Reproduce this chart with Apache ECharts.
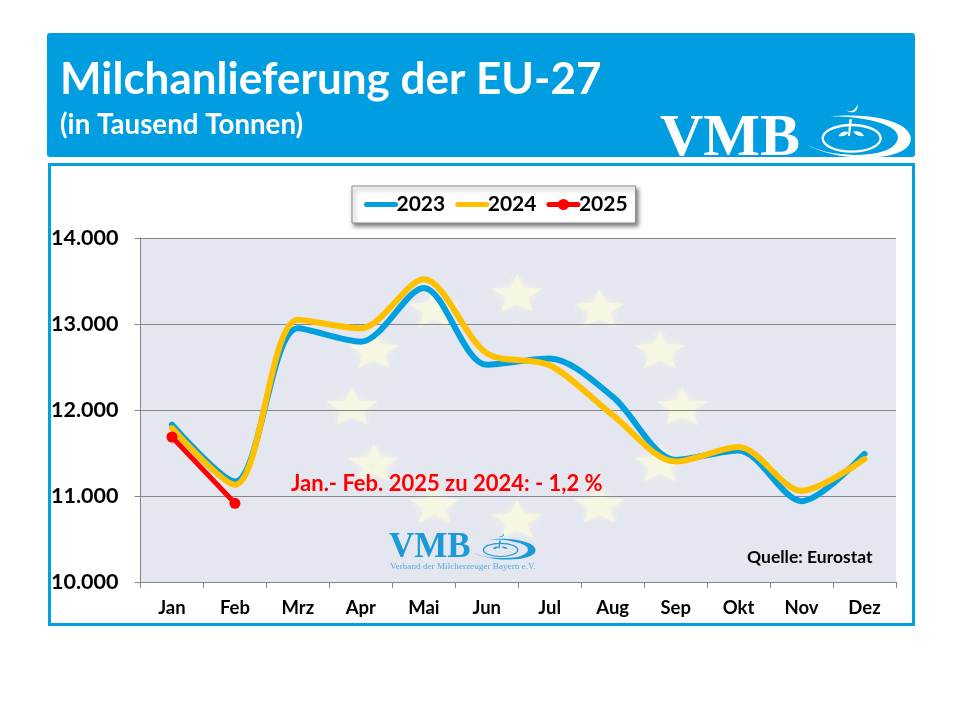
<!DOCTYPE html>
<html style="height: 100%">
<head>
<meta charset="utf-8">
<style type="text/css">
* { margin: 0; padding: 0; }
</style>
</head>
<body style="height: 100%; background: #fff">
<div id="main" style="width: 960px; height: 720px"></div>
<script src="https://cdn.jsdelivr.net/npm/echarts@6/dist/echarts.min.js"></script>
<script type="text/javascript">
var months = ['Jan', 'Feb', 'Mrz', 'Apr', 'Mai', 'Jun', 'Jul', 'Aug', 'Sep', 'Okt', 'Nov', 'Dez'];
var values2023 = [11830, 11170, 12950, 12795, 13420, 12525, 12600, 12155, 11420, 11530, 10940, 11490];
var values2024 = [11790, 11130, 13050, 12950, 13520, 12660, 12520, 11940, 11400, 11570, 11060, 11430];
var values2025 = [11686, 10915];

var font = 'Lato, "Noto Sans", sans-serif';
var blue = '#009ee0';

// the graphic component has no plain path type, so register the logo pieces
echarts.graphic.registerShape('swirlOuter', echarts.graphic.extendPath('M495 160 C560 205 700 215 770 190 C825 170 825 130 780 105 C730 78 640 72 570 80 C650 78 735 95 765 122 C790 150 760 185 690 192 C620 200 540 190 495 160 Z', {}));
echarts.graphic.registerShape('swirlSprout', echarts.graphic.extendPath('M618 60 C630 68 648 62 652 42 C656 62 640 76 618 60 Z M636 88 L630 138 L624 138 L628 88 Z M595 138 C605 122 620 122 625 128 C618 138 605 140 595 138 Z M640 124 C655 122 668 128 672 138 C660 140 645 136 640 124 Z', {}));

// EU stars behind the lines
function star(cx, cy) {
	var pts = [];
	for (var i = 0; i < 10; i++) {
		var a = -Math.PI / 2 + i * Math.PI / 5;
		var r = i % 2 ? 0.42 : 1;
		pts.push([cx + Math.cos(a) * r * 27, cy + Math.sin(a) * r * 21]);
	}
	return {
		type: 'polygon', z: 1, silent: true,
		shape: { points: pts },
		style: { fill: '#f6f7e3', shadowBlur: 8, shadowColor: '#f6f7e3' }
	};
}

function swirl(x, y, sx, sy, color) {
	return {
		type: 'group', x: x, y: y, scaleX: sx, scaleY: sy, z: 6, silent: true,
		children: [
			{ type: 'swirlOuter', z: 6, style: { fill: color } },
			{ type: 'ellipse', z: 6, shape: { cx: 635, cy: 145, rx: 87, ry: 40 }, style: { fill: null, stroke: color, lineWidth: 7 } },
			{ type: 'swirlSprout', z: 6, style: { fill: color } }
		]
	};
}

var graphics = [
	{ type: 'rect', z: 0, shape: { x: 47, y: 33, width: 868, height: 124, r: 3 }, style: { fill: blue } },
	{ type: 'rect', z: 0, shape: { x: 49.5, y: 164.5, width: 864, height: 460 }, style: { fill: null, stroke: '#00a0e3', lineWidth: 3 } },
	{ type: 'text', z: 6, x: 60, y: 80, style: { text: 'Milchanlieferung der EU-27', fill: '#fff', font: 'bold 44px ' + font, verticalAlign: 'middle' } },
	{ type: 'text', z: 6, x: 60, y: 125, style: { text: '(in Tausend Tonnen)', fill: '#fff', font: 'bold 27.7px ' + font, verticalAlign: 'middle' } },
	{ type: 'text', z: 6, x: 660, y: 139, style: { text: 'VMB', fill: '#fff', font: 'bold 60px "Liberation Serif"', verticalAlign: 'middle' } },
	swirl(640, 90, 1 / 3, 1 / 3, '#fff'),
	{ type: 'text', z: 6, x: 291, y: 484, style: { text: 'Jan.- Feb. 2025 zu 2024: - 1,2 %', fill: '#ff0000', font: 'bold 22px ' + font, verticalAlign: 'middle' } },
	{ type: 'text', z: 6, x: 747, y: 557, style: { text: 'Quelle: Eurostat', fill: '#000', font: 'bold 17.5px ' + font, verticalAlign: 'middle' } },
	{ type: 'text', z: 6, x: 389, y: 548, style: { text: 'VMB', fill: '#1a9ad6', font: 'bold 35px "Liberation Serif"', verticalAlign: 'middle' } },
	{ type: 'text', z: 6, x: 390, y: 567, style: { text: 'Verband der Milcherzeuger Bayern e.V.', fill: '#5aaedc', font: '9.2px "Liberation Serif"', verticalAlign: 'middle' } },
	swirl(375.5, 526, 0.197, 0.165, '#1a9ad6')
];
for (var s = 0; s < 12; s++) {
	var ang = s * Math.PI / 6;
	graphics.push(star(517 + Math.sin(ang) * 165, 408 - Math.cos(ang) * 113));
}

var myChart = echarts.init(document.getElementById('main'), null, { renderer: 'canvas' });
myChart.setOption({
	backgroundColor: '#fff',
	animation: false,
	graphic: { elements: graphics },
	legend: {
		left: 352, top: 186,
		padding: [8, 8, 8, 12],
		itemWidth: 29, itemHeight: 14, itemGap: 10,
		backgroundColor: '#fff',
		borderColor: '#8a8a8a', borderWidth: 1,
		shadowColor: 'rgba(0,0,0,0.5)', shadowBlur: 4, shadowOffsetX: 2, shadowOffsetY: 3,
		lineStyle: { width: 5, cap: 'round' },
		textStyle: { fontFamily: font, fontWeight: 'bold', fontSize: 21, color: '#000', padding: [0, 0, 0, -4] },
		// the two smooth series show only a line in the legend, no dot
		data: [
			{ name: '2023', itemStyle: { opacity: 0 } },
			{ name: '2024', itemStyle: { opacity: 0 } },
			{ name: '2025' }
		]
	},
	grid: { left: 140.5, right: 64, top: 238, bottom: 138, show: true, backgroundColor: '#e4e6f0', borderWidth: 0 },
	xAxis: {
		type: 'category', data: months, boundaryGap: true, z: 3,
		axisLine: { lineStyle: { color: '#868686', width: 1 } },
		axisTick: { show: true, alignWithLabel: false, length: 6, lineStyle: { color: '#868686' } },
		axisLabel: { color: '#000', fontFamily: font, fontWeight: 'bold', fontSize: 18.5, margin: 17, interval: 0 }
	},
	yAxis: {
		type: 'value', min: 10000, max: 14000, interval: 1000, z: 3,
		axisLine: { show: true, lineStyle: { color: '#868686', width: 1 } },
		axisTick: { show: true, length: 6, lineStyle: { color: '#868686' } },
		splitLine: { show: true, lineStyle: { color: '#868686', width: 1 } },
		axisLabel: {
			color: '#000', fontFamily: font, fontWeight: 'bold', fontSize: 21.5, margin: 22,
			formatter: function (v) { return String(v).replace(/(\d)(\d{3})$/, '$1.$2'); }
		}
	},
	series: [
		{ name: '2023', type: 'line', z: 5, data: values2023, smooth: 0.3, symbol: 'none', lineStyle: { color: '#00a0e0', width: 6, cap: 'round' }, itemStyle: { color: '#00a0e0' } },
		{ name: '2024', type: 'line', z: 6, data: values2024, smooth: 0.3, symbol: 'none', lineStyle: { color: '#ffc000', width: 6, cap: 'round' }, itemStyle: { color: '#ffc000' } },
		{ name: '2025', type: 'line', z: 7, data: values2025, symbol: 'circle', symbolSize: 11, lineStyle: { color: '#ff0000', width: 5 }, itemStyle: { color: '#ff0000' } }
	]
});
</script>
</body>
</html>
